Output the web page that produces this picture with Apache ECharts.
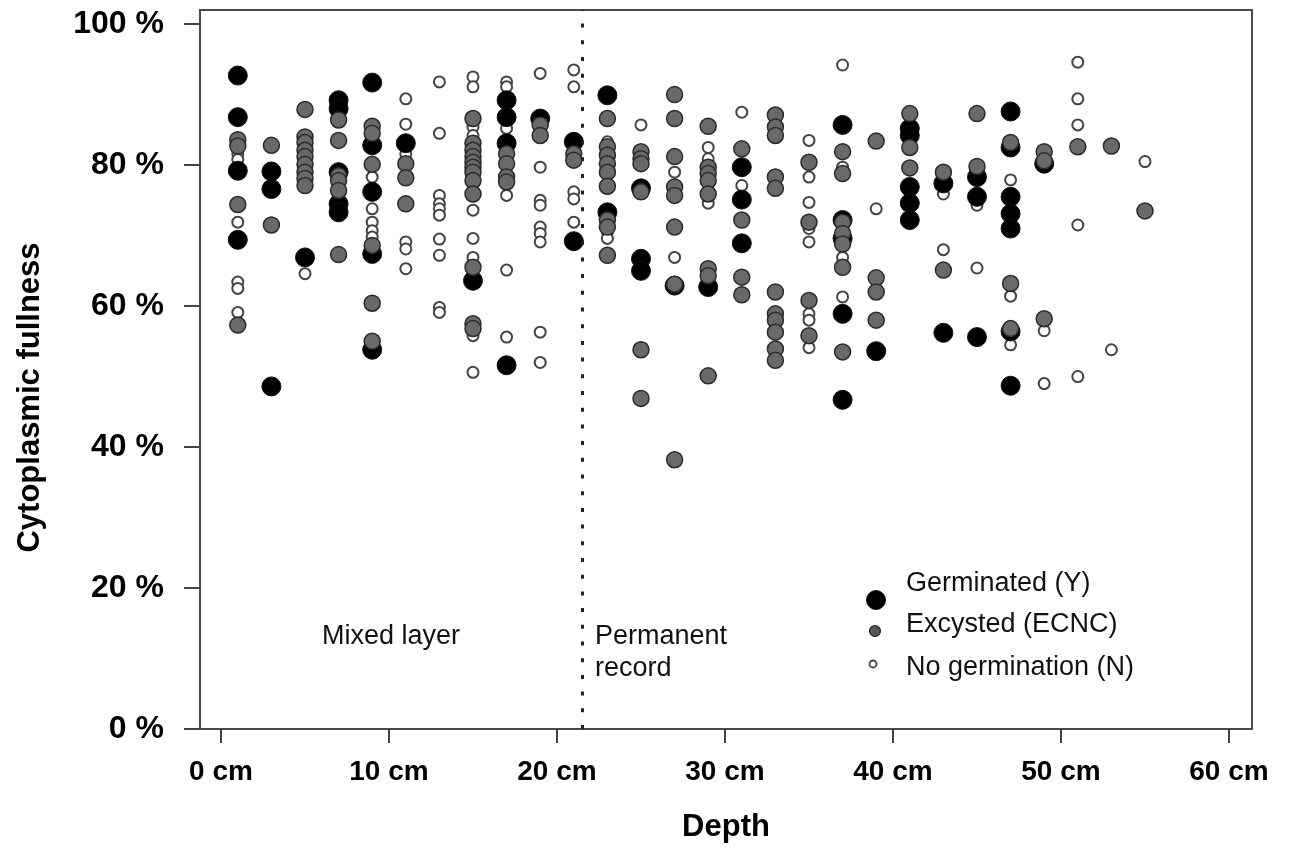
<!DOCTYPE html>
<html>
<head>
<meta charset="utf-8">
<script src="https://cdn.jsdelivr.net/npm/echarts@6/dist/echarts.min.js"></script>
<style>
html,body{margin:0;padding:0;background:#fff;}
#chart{width:1293px;height:852px;}
</style>
</head>
<body>
<div id="chart"></div>
<script>
// ---- data (depth in cm, cytoplasmic fullness in %) ----
const germinatedPoints = [
 [1,92.7],[1,86.8],[1,79.2],[1,69.4],
 [3,79.1],[3,76.6],[3,48.6],
 [5,66.9],
 [7,89.2],[7,88.0],[7,79.0],[7,74.5],[7,73.3],
 [9,91.7],[9,82.8],[9,76.2],[9,67.4],[9,53.8],
 [11,83.1],
 [15,63.6],
 [17,89.2],[17,86.8],[17,83.1],[17,51.6],
 [19,86.6],
 [21,83.3],[21,69.2],
 [23,89.9],[23,73.3],
 [25,76.7],[25,66.7],[25,65.0],
 [27,62.9],
 [29,62.7],
 [31,79.7],[31,75.1],[31,68.9],
 [37,85.7],[37,72.2],[37,69.6],[37,58.9],[37,46.7],
 [39,53.6],
 [41,85.2],[41,84.2],[41,76.9],[41,74.6],[41,72.2],
 [43,77.4],[43,56.2],
 [45,78.3],[45,75.5],[45,55.6],
 [47,87.6],[47,82.5],[47,75.5],[47,73.1],[47,71.0],[47,56.4],[47,48.7],
 [49,80.2]
];
const excystedPoints = [
 [1,83.6],[1,82.7],[1,74.4],[1,57.3],
 [3,82.8],[3,71.5],
 [5,87.9],[5,84.0],[5,83.2],[5,82.1],[5,81.2],[5,80.1],[5,79.0],[5,78.1],[5,77.1],
 [7,86.4],[7,83.5],[7,78.5],[7,77.8],[7,76.4],[7,67.3],
 [9,85.5],[9,84.5],[9,80.1],[9,68.6],[9,60.4],[9,55.0],
 [11,80.2],[11,78.2],[11,74.5],
 [15,86.6],[15,83.1],[15,82.1],[15,81.2],[15,80.4],[15,79.7],[15,79.0],[15,77.8],[15,75.9],[15,65.5],[15,57.5],[15,56.8],
 [17,81.6],[17,80.2],[17,78.3],[17,77.6],
 [19,85.7],[19,84.2],
 [21,81.6],[21,80.7],
 [23,86.6],[23,82.6],[23,81.4],[23,80.2],[23,79.0],[23,77.0],[23,72.2],[23,71.2],[23,67.2],
 [25,81.9],[25,80.9],[25,80.2],[25,76.2],[25,53.8],[25,46.9],
 [27,90.0],[27,86.6],[27,81.2],[27,76.9],[27,75.7],[27,71.2],[27,63.1],[27,38.2],
 [29,85.5],[29,79.7],[29,78.8],[29,77.8],[29,75.9],[29,65.3],[29,64.3],[29,50.1],
 [31,82.3],[31,72.2],[31,64.1],[31,61.6],
 [33,87.1],[33,85.4],[33,84.2],[33,78.3],[33,76.7],[33,62.0],[33,58.9],[33,58.0],[33,56.3],[33,53.9],[33,52.3],
 [35,80.4],[35,71.9],[35,60.8],[35,55.8],
 [37,81.9],[37,78.8],[37,71.9],[37,70.3],[37,68.8],[37,65.5],[37,53.5],
 [39,83.4],[39,64.0],[39,62.0],[39,58.0],
 [41,87.3],[41,82.5],[41,79.6],
 [43,79.0],[43,65.1],
 [45,87.3],[45,79.8],
 [47,83.2],[47,63.2],[47,56.8],
 [49,81.9],[49,80.6],[49,58.2],
 [51,82.6],
 [53,82.7],
 [55,73.5]
];
const noGerminationPoints = [
 [1,81.6],[1,80.8],[1,71.9],[1,63.4],[1,62.5],[1,59.1],
 [5,64.6],
 [9,78.3],[9,73.8],[9,71.9],[9,70.7],[9,69.8],
 [11,89.4],[11,85.8],[11,81.6],[11,69.1],[11,68.1],[11,65.3],
 [13,91.8],[13,84.5],[13,75.7],[13,74.5],[13,73.8],[13,72.9],[13,69.5],[13,67.2],[13,59.8],[13,59.1],
 [15,92.5],[15,91.1],[15,85.4],[15,84.2],[15,73.6],[15,69.6],[15,66.9],[15,55.8],[15,50.6],
 [17,91.8],[17,91.1],[17,85.2],[17,75.7],[17,65.1],[17,55.6],
 [19,93.0],[19,79.7],[19,75.0],[19,74.3],[19,71.2],[19,70.3],[19,69.1],[19,56.3],[19,52.0],
 [21,93.5],[21,91.1],[21,76.2],[21,75.2],[21,71.9],
 [23,83.3],[23,70.5],[23,69.6],
 [25,85.7],
 [27,79.0],[27,66.9],
 [29,82.5],[29,80.9],[29,74.6],
 [31,87.5],[31,77.1],
 [35,83.5],[35,78.3],[35,74.7],[35,71.0],[35,69.1],[35,58.9],[35,58.0],[35,54.1],
 [37,94.2],[37,79.7],[37,66.9],[37,61.3],
 [39,73.8],
 [43,75.9],[43,68.0],
 [45,74.3],[45,65.4],
 [47,77.9],[47,61.4],[47,54.5],
 [49,56.5],[49,49.0],
 [51,94.6],[51,89.4],[51,85.7],[51,71.5],[51,50.0],
 [53,53.8],
 [55,80.5]
];
const depthTicks = [0,10,20,30,40,50,60];
const percentTicks = [0,20,40,60,80,100];
const boundaryDepth = 21.5;
const seriesNames = ['Germinated (Y)','Excysted (ECNC)','No germination (N)'];
const layerLabels = ['Mixed layer','Permanent','record'];

const FONT = "'Liberation Sans', Arial, Helvetica, sans-serif";
const chart = echarts.init(document.getElementById('chart'), null, {renderer:'canvas'});

const option = {
  animation: false,
  backgroundColor: '#ffffff',
  grid: {left:200, right:41, top:10, bottom:123, show:true, borderColor:'#4a4a4a', borderWidth:2, backgroundColor:'transparent'},
  xAxis: {
    type:'value', min:-1.25, max:61.37,
    axisLine:{show:false, onZero:false}, splitLine:{show:false},
    axisTick:{show:true, inside:false, customValues:depthTicks, length:14, lineStyle:{color:'#444', width:2}},
    axisLabel:{customValues:depthTicks, formatter:'{value} cm', margin:29, fontSize:28, fontWeight:'bold', color:'#000', fontFamily:FONT},
    name:'Depth', nameLocation:'middle', nameGap:83,
    nameTextStyle:{fontSize:31, fontWeight:'bold', color:'#000', fontFamily:FONT}
  },
  yAxis: {
    type:'value', min:0, max:102,
    axisLine:{show:false, onZero:false}, splitLine:{show:false},
    axisTick:{show:true, inside:false, customValues:percentTicks, length:16, lineStyle:{color:'#444', width:2}},
    axisLabel:{customValues:percentTicks, formatter:'{value} %', margin:36, fontSize:32, fontWeight:'bold', color:'#000', fontFamily:FONT},
    name:'Cytoplasmic fullness', nameLocation:'middle', nameGap:154, nameRotate:90,
    nameTextStyle:{fontSize:31, fontWeight:'bold', color:'#000', fontFamily:FONT, padding:[0,56,0,0]}
  },
  series: [
    {
      name: seriesNames[2], type:'scatter', data: noGerminationPoints, z:2,
      symbol:'circle', symbolSize:11,
      itemStyle:{color:'#ffffff', borderColor:'#444', borderWidth:2, opacity:1},
      markLine:{silent:true, symbol:['none','none'], label:{show:false},
        lineStyle:{type:[4,12.7], width:3, color:'#222'},
        emphasis:{disabled:true},
        data:[{xAxis:boundaryDepth}]}
    },
    {
      name: seriesNames[0], type:'scatter', data: germinatedPoints, z:3,
      symbol:'circle', symbolSize:19,
      itemStyle:{color:'#000000', borderColor:'#111', borderWidth:1, opacity:1}
    },
    {
      name: seriesNames[1], type:'scatter', data: excystedPoints, z:4,
      symbol:'circle', symbolSize:16,
      itemStyle:{color:'#696969', borderColor:'#2a2a2a', borderWidth:1.5, opacity:1}
    }
  ],
  graphic: [
    {type:'text', left:322, top:638-15, style:{text:layerLabels[0], font:'27px '+FONT, fill:'#111'}},
    {type:'text', left:595, top:638-15, style:{text:layerLabels[1], font:'27px '+FONT, fill:'#111'}},
    {type:'text', left:595, top:670-15, style:{text:layerLabels[2], font:'27px '+FONT, fill:'#111'}},
    {type:'circle', shape:{cx:876, cy:600, r:9.5}, style:{fill:'#000', stroke:'#111', lineWidth:1}},
    {type:'circle', shape:{cx:875, cy:631, r:5.5}, style:{fill:'#555', stroke:'#222', lineWidth:1.2}},
    {type:'circle', shape:{cx:873, cy:664, r:3.5}, style:{fill:'#fff', stroke:'#444', lineWidth:1.8}},
    {type:'text', left:906, top:585-15, style:{text:seriesNames[0], font:'27px '+FONT, fill:'#111'}},
    {type:'text', left:906, top:626-15, style:{text:seriesNames[1], font:'27px '+FONT, fill:'#111'}},
    {type:'text', left:906, top:669-15, style:{text:seriesNames[2], font:'27px '+FONT, fill:'#111'}}
  ]
};
chart.setOption(option);
</script>
</body>
</html>
